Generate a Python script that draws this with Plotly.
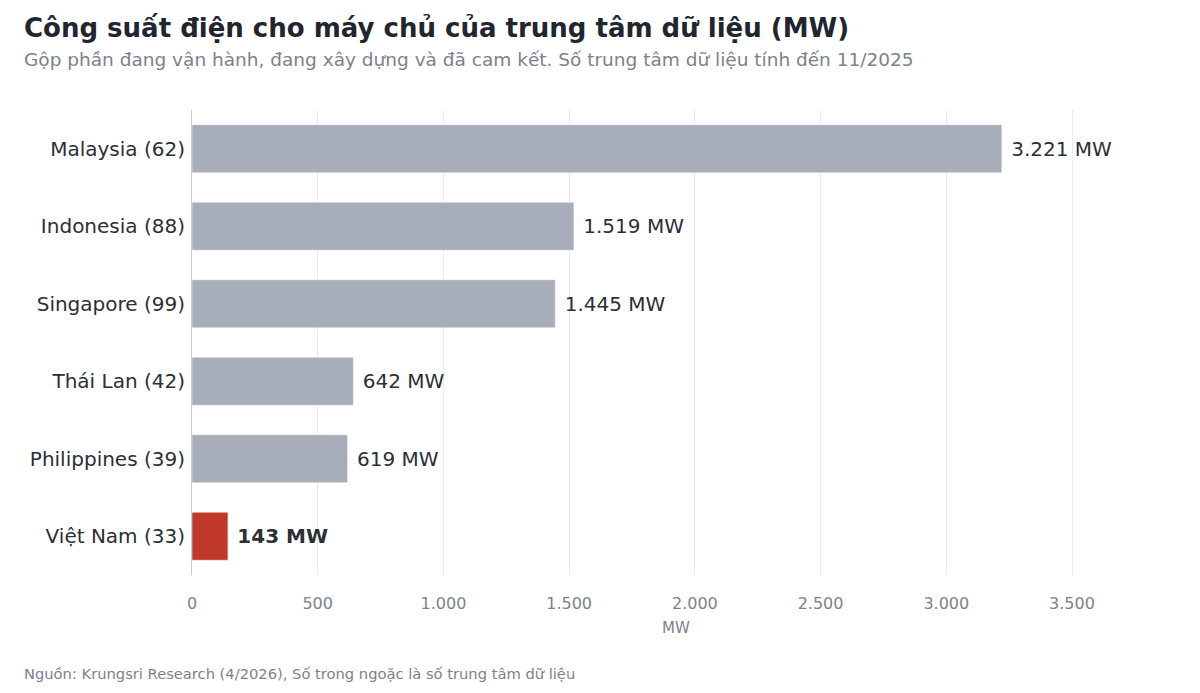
import plotly.graph_objects as go

countries = ["Malaysia (62)", "Indonesia (88)", "Singapore (99)", "Thái Lan (42)", "Philippines (39)", "Việt Nam (33)"]
mw = [3221, 1519, 1445, 642, 619, 143]
colors = ["#a7adb9"] * 5 + ["#c0392b"]
labels = [" " + f"{v:,} MW".replace(",", ".") for v in mw]
labels[-1] = " <b>" + labels[-1].strip() + "</b>"

fig = go.Figure(go.Bar(
    x=mw, y=countries, orientation="h", marker_color=colors,
    text=labels, textposition="outside", cliponaxis=False,
    textfont=dict(size=20, color="#2b2f36"), width=0.62,
))

fig.update_layout(
    width=1200, height=693, template="plotly_white",
    font=dict(family="DejaVu Sans", color="#2b2f36"),
    separators=",.",
    margin=dict(l=184, r=48, t=102, b=126, autoexpand=False),
    showlegend=False,
    title=dict(text="<b>Công suất điện cho máy chủ của trung tâm dữ liệu (MW)</b>",
               x=16 / 1200, xref="container", xanchor="left", y=0.971, yanchor="middle",
               font=dict(size=26, color="#1f2630")),
)
fig.add_annotation(text="Gộp phần đang vận hành, đang xây dựng và đã cam kết. Số trung tâm dữ liệu tính đến 11/2025",
                   xref="paper", yref="paper", x=-170/968, y=1.108, xanchor="left", yanchor="middle",
                   showarrow=False, font=dict(size=18.5, color="#7b828c"))
fig.add_annotation(text="Nguồn: Krungsri Research (4/2026), Số trong ngoặc là số trung tâm dữ liệu",
                   xref="paper", yref="paper", x=-170/968, y=-0.211, xanchor="left", yanchor="middle",
                   showarrow=False, font=dict(size=14.7, color="#7b828c"))
fig.update_xaxes(range=[0, 3850], tickvals=[0, 500, 1000, 1500, 2000, 2500, 3000, 3500],
                 tickformat=",d", title=dict(text="MW", font=dict(size=15, color="#7b828c"), standoff=10),
                 tickfont=dict(size=16, color="#7b828c"), gridcolor="#ebebeb", zeroline=False,
                 showline=False, automargin=False, ticklabelstandoff=17)
fig.update_yaxes(autorange="reversed", tickfont=dict(size=20, color="#2b2f36"),
                 showline=True, linecolor="#cccccc", ticks="", ticklabelstandoff=2, automargin=False)
fig.write_html("out.html")
